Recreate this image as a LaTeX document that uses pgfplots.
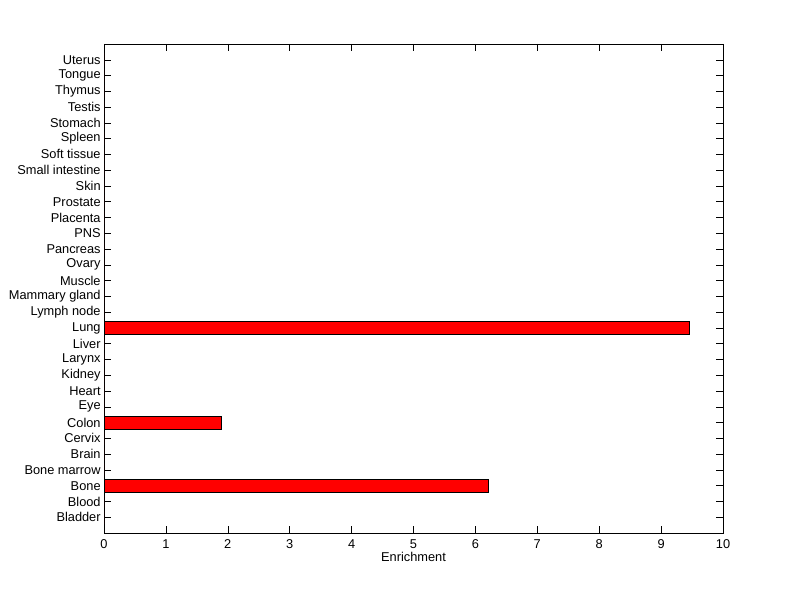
\documentclass[border=0pt]{standalone}
\usepackage{pgfplots}
\pgfplotsset{compat=1.18}
\usepackage{fontspec}
\setmainfont{Liberation Sans}
\begin{document}
\begin{tikzpicture}[x=1pt,y=1pt]
\path[use as bounding box] (0,0) rectangle (600,449.25);
\begin{axis}[
  at={(78pt,49.5pt)}, anchor=south west,
  scale only axis, width=464.25pt, height=366.75pt,
  xbar, bar width=0.8,
  xmin=0, xmax=10, ymin=0, ymax=31,
  xtick={0,1,...,10},
  ytick={1,...,30},
  yticklabels={Bladder,Blood,Bone,Bone marrow,Brain,Cervix,Colon,Eye,Heart,Kidney,Larynx,Liver,Lung,Lymph node,Mammary gland,Muscle,Ovary,Pancreas,PNS,Placenta,Prostate,Skin,Small intestine,Soft tissue,Spleen,Stomach,Testis,Thymus,Tongue,Uterus},
  tick label style={font=\fontsize{9.6}{10}\selectfont},
  yticklabel style={xshift=1pt},
  xticklabel style={yshift=-1.5pt},
  label style={font=\fontsize{9.6}{10}\selectfont},
  /pgf/number format/assume math mode=true,
  major tick length=5pt,
  tick align=inside,
  xtick pos=both, ytick pos=both,
  xlabel={Enrichment},
  xlabel style={yshift=4pt},
  axis line style={black},
  every tick/.style={black},
]
\addplot[fill=red, draw=black] coordinates {
(0,1) (0,2) (6.20,3) (0,4) (0,5) (0,6) (1.89,7) (0,8) (0,9) (0,10)
(0,11) (0,12) (9.46,13) (0,14) (0,15) (0,16) (0,17) (0,18) (0,19) (0,20)
(0,21) (0,22) (0,23) (0,24) (0,25) (0,26) (0,27) (0,28) (0,29) (0,30)
};
\end{axis}
\end{tikzpicture}
\end{document}
